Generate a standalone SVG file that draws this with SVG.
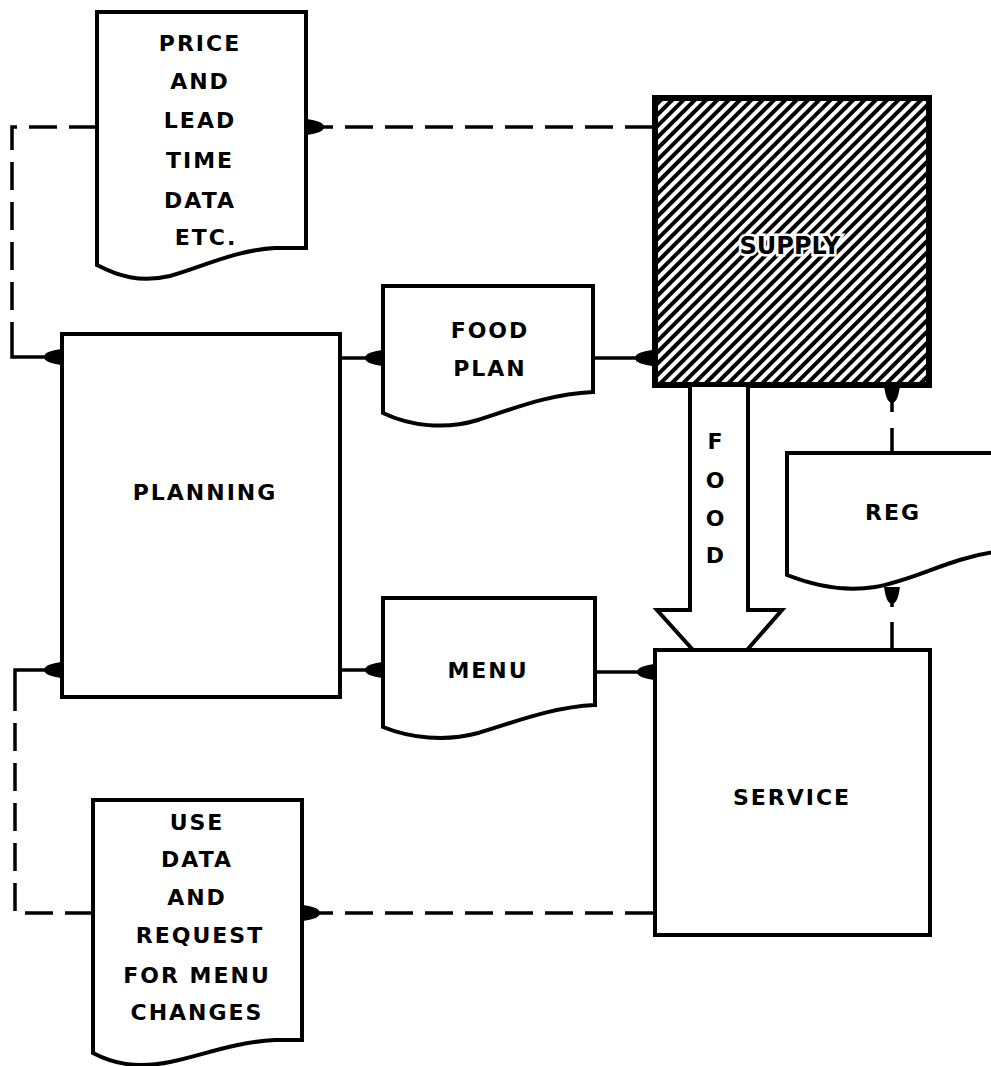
<svg xmlns="http://www.w3.org/2000/svg" width="991" height="1066" viewBox="0 0 991 1066">
<style>
.box{fill:#fff;stroke:#000;stroke-width:4;stroke-linejoin:miter}
.t{font-family:"DejaVu Sans","Liberation Sans",sans-serif;font-weight:bold;font-size:22px;letter-spacing:2px;text-anchor:middle;fill:#000}
.c{fill:none;stroke:#000;stroke-width:3.5}
.d{stroke-dasharray:28 12}
</style>
<defs>
<marker id="ah" markerUnits="userSpaceOnUse" markerWidth="24" markerHeight="24" refX="0" refY="0" viewBox="-20 -12 24 24" orient="auto">
<path d="M1,-8 L1,8 C-6,7 -16,5 -16,0 C-16,-5 -6,-7 1,-8 Z" fill="#000"/>
</marker>
<pattern id="hatch" patternUnits="userSpaceOnUse" width="8" height="20" patternTransform="rotate(45)">
<rect width="8" height="20" fill="#fff"/>
<line x1="2" y1="0" x2="2" y2="20" stroke="#000" stroke-width="4"/>
</pattern>
</defs>
<rect width="991" height="1066" fill="#fff"/>

<g id="connectors">
<path class="c d" d="M97,127 L12,127 L12,340"/>
<path class="c" d="M12,340 L12,357 L60,357" marker-end="url(#ah)"/>
<path class="c d" d="M653,127 L330,127"/>
<path class="c" d="M330,127 L308,127" marker-end="url(#ah)"/>
<path class="c" d="M340,358 L381,358" marker-end="url(#ah)"/>
<path class="c" d="M593,358 L651,358" marker-end="url(#ah)"/>
<path class="c" d="M340,670 L381,670" marker-end="url(#ah)"/>
<path class="c" d="M595,672 L653,672" marker-end="url(#ah)"/>
<path class="c d" d="M653,913 L325,913"/>
<path class="c" d="M325,913 L304,913" marker-end="url(#ah)"/>
<path class="c d" d="M93,913 L15,913 L15,690"/>
<path class="c" d="M15,690 L15,670 L60,670" marker-end="url(#ah)"/>
<path class="c" d="M892,453 L892,428"/>
<path class="c" d="M892,412 L892,387" marker-end="url(#ah)"/>
<path class="c" d="M892,650 L892,622"/>
<path class="c" d="M892,607 L892,588" marker-end="url(#ah)"/>
</g>

<g id="price-doc">
<path class="box" d="M97,265 L97,12 L306,12 L306,248 L275,248 C235,250 200,268 170,276 C140,283 118,276 97,265 Z"/>
<text class="t" x="200" y="51">PRICE</text>
<text class="t" x="200" y="89">AND</text>
<text class="t" x="200" y="128">LEAD</text>
<text class="t" x="200" y="168">TIME</text>
<text class="t" x="200" y="208">DATA</text>
<text class="t" x="206" y="245">ETC.</text>
</g>

<g id="planning">
<rect class="box" x="62" y="334" width="278" height="363"/>
<text class="t" x="205" y="500">PLANNING</text>
</g>

<g id="food-plan">
<path class="box" d="M383,413 L383,286 L593,286 L593,392 C550,394 515,408 478,420 C445,430 410,426 383,413 Z"/>
<text class="t" x="490" y="338">FOOD</text>
<text class="t" x="490" y="376">PLAN</text>
</g>

<g id="menu">
<path class="box" d="M383,727 L383,598 L595,598 L595,705 C552,707 515,722 478,733 C445,742 410,738 383,727 Z"/>
<text class="t" x="488" y="678">MENU</text>
</g>

<g id="supply">
<rect x="655" y="98" width="274" height="287" fill="url(#hatch)" stroke="#000" stroke-width="6"/>
<text class="t" x="790" y="254" style="font-size:24px;stroke:#fff;stroke-width:5px;paint-order:stroke;letter-spacing:0px">SUPPLY</text>
</g>

<g id="food-arrow">
<path class="box" d="M690,387 L690,610 L657,610 L693,650 L747,650 L782,610 L748,610 L748,387"/>
<text class="t" x="716" y="449">F</text>
<text class="t" x="716" y="488">O</text>
<text class="t" x="716" y="526">O</text>
<text class="t" x="716" y="563">D</text>
</g>

<g id="reg">
<path class="box" d="M995,453 L787,453 L787,575 C815,586 845,592 875,587 C915,580 950,558 995,552"/>
<text class="t" x="893" y="520">REG</text>
</g>

<g id="service">
<rect class="box" x="655" y="650" width="275" height="285"/>
<text class="t" x="792" y="805">SERVICE</text>
</g>

<g id="use-doc">
<path class="box" d="M93,1053 L93,800 L302,800 L302,1040 L275,1040 C235,1042 200,1056 170,1062 C135,1069 112,1063 93,1053 Z"/>
<text class="t" x="197" y="830">USE</text>
<text class="t" x="197" y="867">DATA</text>
<text class="t" x="197" y="905">AND</text>
<text class="t" x="200" y="943">REQUEST</text>
<text class="t" x="197" y="983">FOR MENU</text>
<text class="t" x="197" y="1020">CHANGES</text>
</g>
</svg>
